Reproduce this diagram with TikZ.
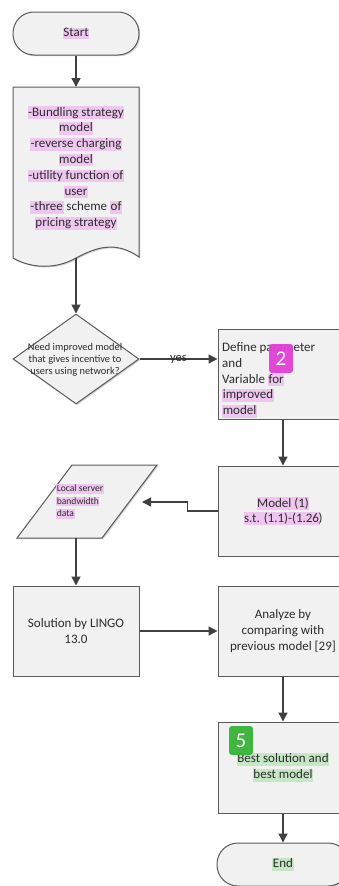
\documentclass[tikz,border=0pt]{standalone}
\usepackage{fontspec}
\setmainfont{Carlito}
\usetikzlibrary{arrows.meta,shadows,shapes.geometric}
\definecolor{hlpink}{HTML}{EFC6EF}
\definecolor{hlgreen}{HTML}{C6E6C6}
\definecolor{bmag}{HTML}{E23ED6}
\definecolor{bgreen}{HTML}{36B336}
\definecolor{txt}{HTML}{2B2B2B}
\definecolor{bordercol}{HTML}{5A5A5A}
\definecolor{fillcol}{HTML}{F1F1F1}
\definecolor{arrowcol}{HTML}{404040}
\newcommand{\hp}[1]{{\setlength{\fboxsep}{0.6pt}\colorbox{hlpink}{\vphantom{Agy}#1}}}
\newcommand{\hg}[1]{{\setlength{\fboxsep}{0.6pt}\colorbox{hlgreen}{\vphantom{Agy}#1}}}
\begin{document}
\begin{tikzpicture}[x=1pt,y=-1pt,
  shapebox/.style={draw=bordercol, line width=1pt, fill=fillcol,
    drop shadow={shadow xshift=1.2pt, shadow yshift=-1.2pt, fill=black, opacity=0.18}},
  proc/.style={shapebox, rectangle, minimum height=90pt, inner sep=4pt, text=txt,
    font=\fontsize{13}{16}\selectfont},
  term/.style={shapebox, rectangle, rounded corners=21pt, minimum height=43pt, text=txt,
    font=\fontsize{13}{16}\selectfont},
  arr/.style={draw=arrowcol, line width=1.3pt, -{Triangle[length=9pt,width=9pt]}},
  badge/.style={rectangle, rounded corners=3pt, minimum width=24pt, minimum height=29pt,
    inner sep=0pt, text=white, font=\fontsize{21}{21}\selectfont, opacity=0.95, text opacity=1}
]
\clip (0,0) rectangle (339,886);
\fill[white] (0,0) rectangle (339,886);

% Start
\node[term, minimum width=126pt] (start) at (76,33.5) {\hp{Start}};

% Document
\path[shapebox] (13,87) -- (139,87) -- (139,257)
  .. controls (115,240) and (95,248) .. (76,258)
  .. controls (55,270) and (30,268) .. (13,258) -- cycle;
\coordinate (doct) at (76,87);
\coordinate (docb) at (76,258);
\node[text=txt, align=center, font=\fontsize{13}{15.8}\selectfont] (doc) at (76,168)
  {\hp{-Bundling strategy}\\\hp{model}\\\hp{-reverse charging}\\\hp{model}\\
   \hp{-utility function of}\\\hp{user}\\\hp{-three} scheme \hp{of}\\\hp{pricing strategy}};

% Decision
\node[shapebox, diamond, aspect=1.4, inner sep=0pt, minimum width=126pt, minimum height=90pt] (dia) at (76,359) {};
\node[text=txt, align=center, font=\fontsize{10.4}{12}\selectfont] (diatext) at (75,359.5)
  {Need improved model\\that gives incentive to\\users using network?};

% Define box
\node[proc, minimum width=130pt] (def) at (283,374) {};
\node[text=txt, anchor=west, align=left, inner sep=0pt, font=\fontsize{13}{15.8}\selectfont] (deftext) at (222,380)
  {Define parameter\\and\\Variable \hp{for}\\\hp{improved}\\\hp{model}};
\node[badge, fill=bmag] (b2) at (281,358.5) {2};

% Model box
\node[proc, minimum width=130pt, align=center, font=\fontsize{13}{15}\selectfont] (model) at (283,511)
  {\hp{Model (1)}\\\hp{s.t. (1.1)-(1.26}\hspace{-1.2pt})};

% Parallelogram
\path[shapebox] (72,465) -- (157,465) -- (102,538) -- (17,538) -- cycle;
\coordinate (parb) at (76,538);
\coordinate (parr) at (142,502);
\node[anchor=west, text=txt, align=left, inner sep=0pt, font=\fontsize{9.6}{12.4}\selectfont] (par) at (56,501.5)
  {\hp{Local server}\\\hp{bandwidth}\\\hp{data}};

% Solution
\node[proc, minimum width=126pt, align=center] (sol) at (76,631) {Solution by LINGO\\13.0};

% Analyze
\node[proc, minimum width=130pt, align=center] (ana) at (283,631)
  {Analyze by\\comparing with\\previous model [29]};

% Best
\node[proc, minimum width=130pt, minimum height=91pt, align=center] (best) at (283,767.5)
  {\hg{Best solution and}\\\hg{best model}};
\node[badge, fill=bgreen] (b5) at (241,740.5) {5};

% End
\node[term, minimum width=132pt] (end) at (283,864.5) {\hg{End}};

% Connectors
\draw[arr] (start.south) -- (doct);
\draw[arr] (docb) -- (dia.north);
\draw[arr] (dia.east) -- (dia.east -| def.west)
  node[midway, text=txt, inner sep=0pt, font=\fontsize{12.5}{14}\selectfont] (yes) {yes};
\draw[arr] (def.south) -- (model.north);
\draw[arr] (model.west) -- ++(-30,0) |- (parr);
\draw[arr] (parb) -- (sol.north);
\draw[arr] (sol.east) -- (ana.west);
\draw[arr] (ana.south) -- (best.north);
\draw[arr] (best.south) -- (end.north);
\end{tikzpicture}
\end{document}
